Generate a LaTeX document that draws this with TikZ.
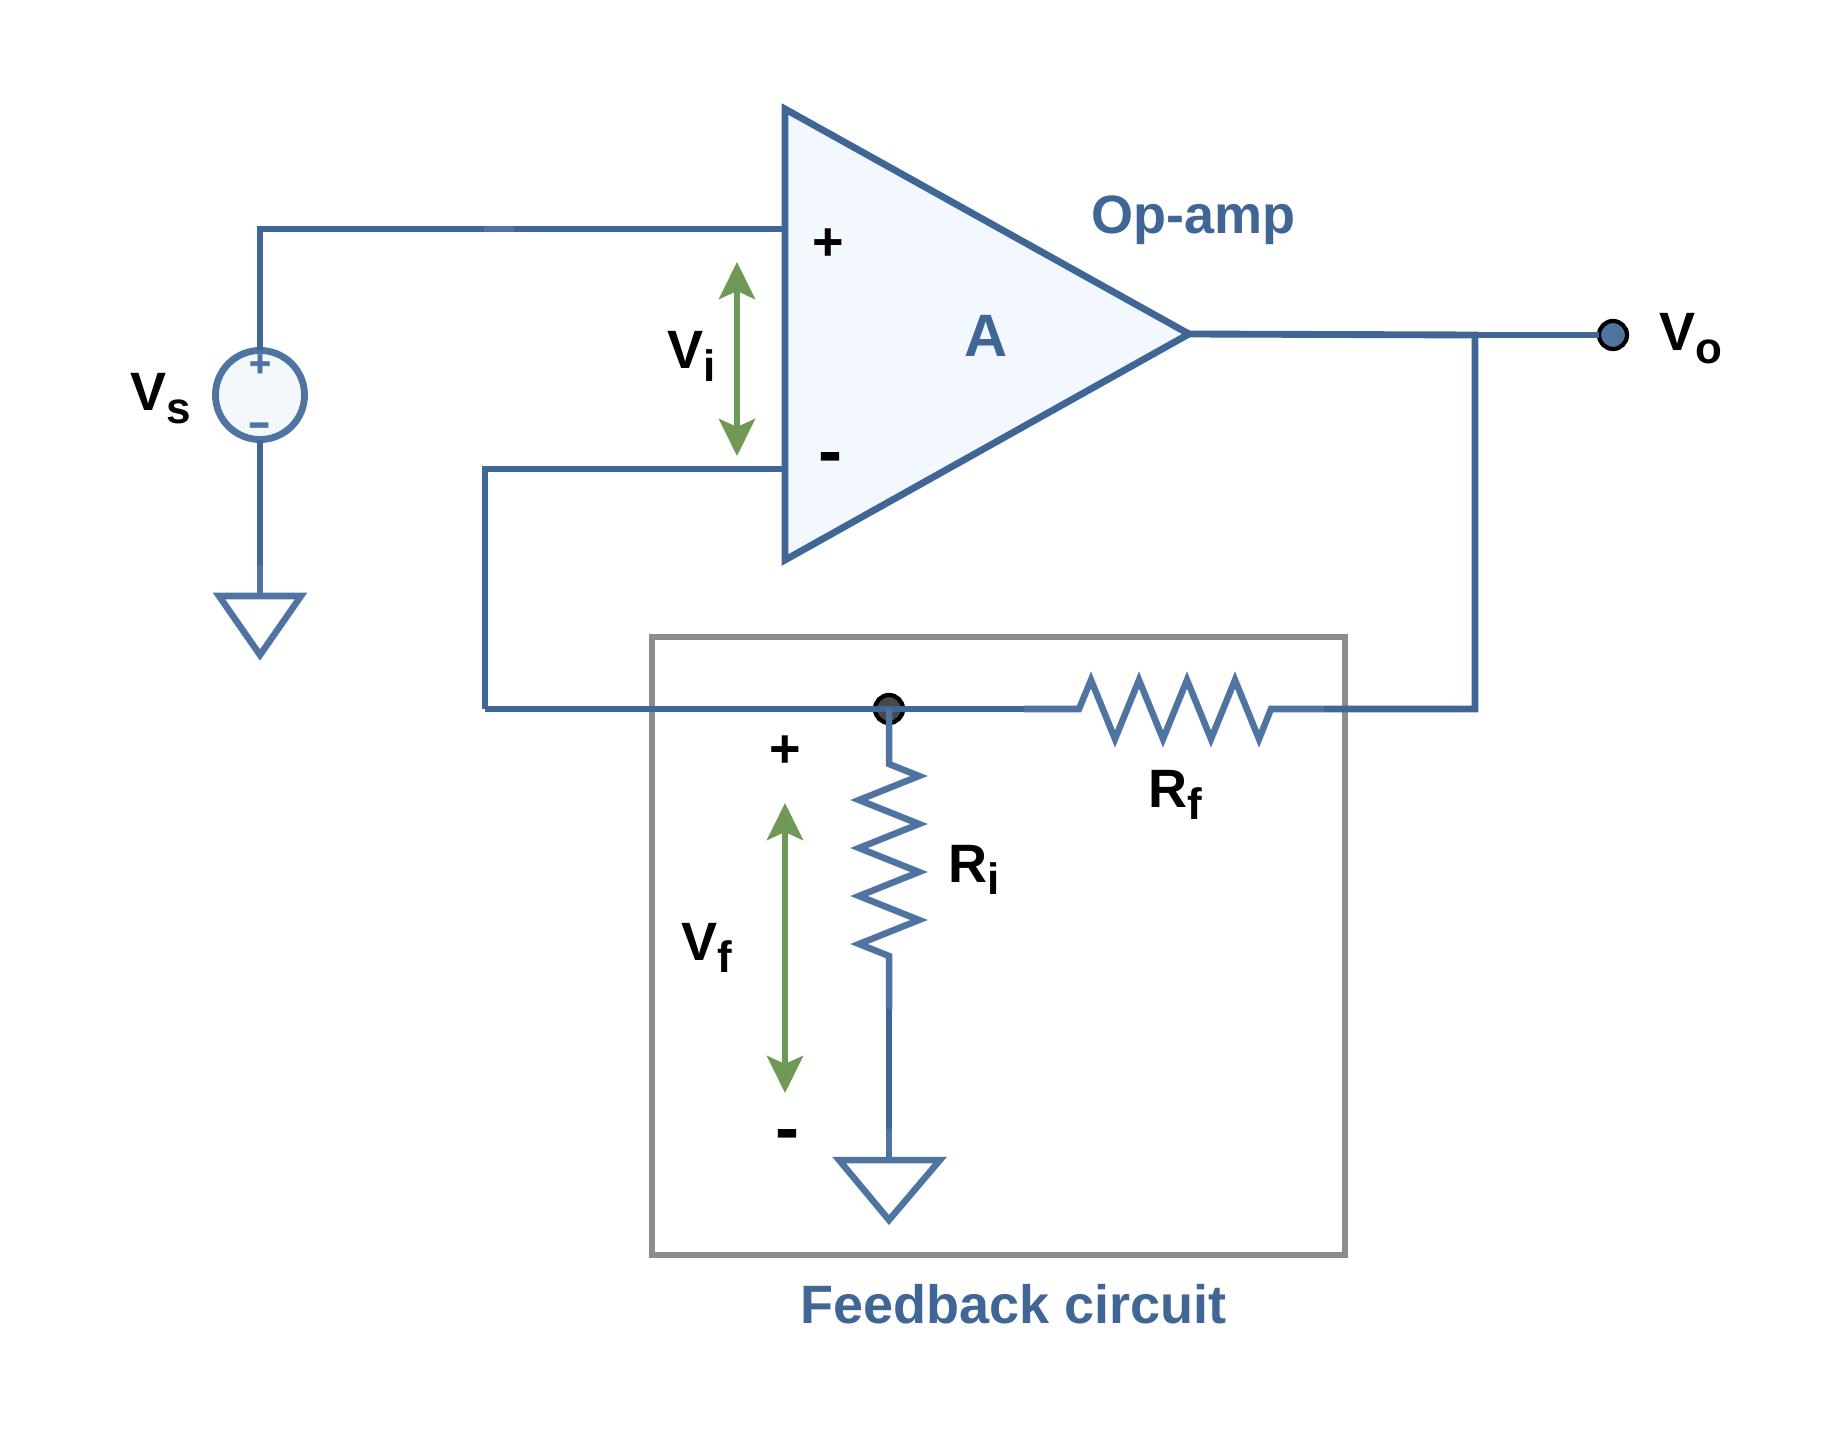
\documentclass[tikz,border=0pt]{standalone}
\usepackage{fontspec}
\setmainfont{Liberation Sans}
\newfontfamily\signfont[FakeBold=1.5]{Liberation Sans Bold}
\usepackage{xcolor}
\definecolor{wireblue}{RGB}{63,102,149}
\definecolor{partblue}{RGB}{80,116,161}
\definecolor{ampfill}{RGB}{243,247,254}
\definecolor{srcfill}{RGB}{243,248,253}
\definecolor{dotblue}{RGB}{80,115,160}
\definecolor{dotdark}{RGB}{72,72,72}
\definecolor{boxgray}{RGB}{140,140,140}
\definecolor{arrowgreen}{RGB}{112,153,88}
\usetikzlibrary{arrows.meta}
\newcommand{\mainsize}{\fontsize{15.36}{18}\selectfont}
\newcommand{\subsize}{\fontsize{12.5}{15}\selectfont}
\newcommand{\sublabel}[2]{#1\raisebox{-.12cm}{\subsize #2}}

\begin{document}
\begin{tikzpicture}[x=.01cm,y=-.01cm,
        wire/.style={draw=wireblue,line width=1.95pt},
        part/.style={draw=partblue,line width=1.85pt,line join=miter},
        volt/.style={arrowgreen,line width=1.7pt,
            {Stealth[length=.37cm,width=.36cm,inset=.08cm]}-{Stealth[length=.37cm,width=.36cm,inset=.08cm]}},
        every node/.style={inner sep=0pt,outer sep=0pt,font=\bfseries\mainsize},
        label/.style={anchor=base west},
        sign/.style={anchor=base},
        title/.style={anchor=base west,text=wireblue},
        dot/.style={circle,draw=black,line width=1.2pt,minimum size=.28cm}]
    \useasboundingbox (0,0) rectangle (1842,1452);

    % wire corners
    \coordinate (inP) at (785,229);
    \coordinate (inN) at (785,469);
    \coordinate (srcTop) at (260,229);
    \coordinate (seamA) at (484,229);
    \coordinate (seamB) at (514,229);
    \coordinate (fbTop) at (485,469);
    \coordinate (fbBot) at (485,709);
    \coordinate (rfL) at (1024,709);
    \coordinate (rfR) at (1324,709);
    \coordinate (outT) at (1475,335);
    \coordinate (fbEnd) at (1475,709);
    \coordinate (ampTip) at (1189,334);

    % feedback box
    \draw[boxgray,line width=1.85pt] (652,637) rectangle (1345,1255);

    % source and ground
    \node[circle,draw=partblue,fill=srcfill,line width=1.95pt,minimum size=.89cm] (src) at (260,395) {};
    \draw[wire] (src.north) -- (srcTop) -- (seamA);
    \draw[part] (seamA) -- (seamB);
    \draw[wire] (seamB) -- (inP);
    \coordinate (gndA) at (260,596);
    \coordinate (gndAs) at (260,565);
    \draw[wire] (src.south) -- (gndAs);
    \draw[part] (gndAs) -- (gndA);
    \draw[part] (219,596) -- (301,596) -- (260,655) -- cycle;
    \node[sign,text=partblue,font=\signfont\fontsize{10.5}{12}\selectfont] (srcP) at (260,376) {+};
    \node[sign,text=partblue] (srcN) at (260,438) {\scalebox{1.35}[.85]{-}};

    % op-amp
    \draw[wire] (fbBot) -- (fbTop) -- (inN);
    \draw[wire,fill=ampfill] (785,109) -- (ampTip) -- (785,560) -- cycle;
    \draw[wire] (ampTip) -- (outT) -- (fbEnd) -- (rfR);
    \node[sign] (ampP) at (828,261) {+};
    \node[sign,font=\bfseries\fontsize{20.5}{24}\selectfont] (ampN) at (830,476) {-};
    \node[sign,text=wireblue,font=\bfseries\fontsize{17}{20}\selectfont] (gain) at (986,357) {A};
    \node[title] (ampName) at (1091,234) {Op-amp};

    % output
    \node[dot,fill=dotblue] (vout) at (1613,335) {};
    \draw[wire] (outT) -- (vout);
    \node[label] (voLabel) at (1659,351) {\sublabel{V}{o}};
    \node[label] (vsLabel) at (130,411) {\sublabel{V}{s}};
    \node[label] (viLabel) at (667,369) {\sublabel{V}{i}};

    % input voltage
    \coordinate (viTop) at (737,262);
    \coordinate (viBot) at (737,456);
    \draw[volt] (viTop) -- (viBot);

    % feedback network
    \node[dot,fill=dotdark] (fbDot) at (889,709) {};
    \draw[wire] (fbBot) -- (rfL);
    \draw[part] (rfL) -- (1079,709) -- (1091,680) -- (1115,739) -- (1139,680) -- (1163,739)
        -- (1187,680) -- (1211,739) -- (1235,680) -- (1259,739) -- (1271,709) -- (rfR);
    \coordinate (riTop) at (fbDot.center);
    \coordinate (riS) at (889,1009);
    \coordinate (riG) at (889,1129);
    \coordinate (gndB) at (889,1160);
    \draw[part] (riTop) -- (889,764) -- (919,776) -- (859,800) -- (919,824) -- (859,848)
        -- (919,872) -- (859,896) -- (919,920) -- (859,944) -- (889,956) -- (riS);
    \draw[wire] (riS) -- (riG);
    \draw[part] (riG) -- (gndB);
    \draw[part] (839,1160) -- (940,1160) -- (889,1220) -- cycle;
    \node[label] (rfLabel) at (1148,807) {\sublabel{R}{f}};
    \node[label] (riLabel) at (948,882) {\sublabel{R}{i}};
    \node[label] (vfLabel) at (681,960) {\sublabel{V}{f}};

    % feedback voltage
    \coordinate (vfTop) at (785,803);
    \coordinate (vfBot) at (785,1093);
    \draw[volt] (vfTop) -- (vfBot);
    \node[sign] (vfP) at (785,767) {+};
    \node[sign,font=\bfseries\fontsize{20.5}{24}\selectfont] (vfN) at (787,1152) {-};

    \node[title] (fbName) at (800,1323) {Feedback circuit};
\end{tikzpicture}
\end{document}
